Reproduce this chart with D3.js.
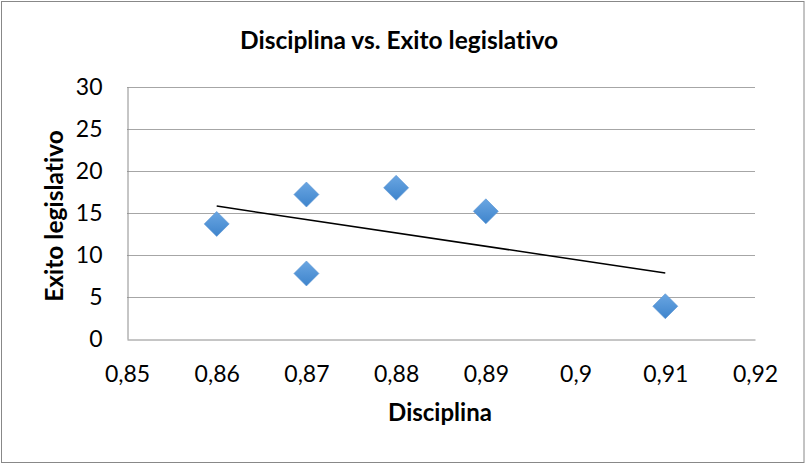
<!DOCTYPE html>
<html>
<head>
<meta charset="utf-8">
<script src="https://cdn.jsdelivr.net/npm/d3@7"></script>
<style>
  html, body { margin: 0; padding: 0; background: #fff; }
  svg { display: block; }
  text { font-family: Lato, "Open Sans", sans-serif; fill: #000; font-variant-ligatures: none; }
</style>
</head>
<body>
<svg id="chart" width="806" height="464"></svg>
<script>
// Disciplina (x) and Exito legislativo (y) per observation
const disciplina = [0.86, 0.87, 0.87, 0.88, 0.89, 0.91];
const exito      = [13.7, 17.2, 7.8, 18.0, 15.2, 3.9];

const xTicks = [0.85, 0.86, 0.87, 0.88, 0.89, 0.90, 0.91, 0.92];
const yTicks = [0, 5, 10, 15, 20, 25, 30];

const chartTitle = "Disciplina vs. Exito legislativo";
const xTitle = "Disciplina";
const yTitle = "Exito legislativo";

const W = 806, H = 464;
const plot = { left: 127, right: 755, top: 87, bottom: 339 };

const svg = d3.select("#chart");

// chart frame
svg.append("rect")
  .attr("x", 1.5).attr("y", 1.5)
  .attr("width", W - 3.5).attr("height", H - 3)
  .attr("fill", "#fff").attr("stroke", "#888").attr("stroke-width", 1);

const x = d3.scaleLinear().domain([0.85, 0.92]).range([plot.left, plot.right]);
const y = d3.scaleLinear().domain([0, 30]).range([plot.bottom, plot.top]);

const fmt = d => String(+d.toFixed(2)).replace(".", ",");

// horizontal gridlines
svg.append("g")
  .selectAll("line")
  .data(yTicks.filter(t => t > 0))
  .join("line")
  .attr("x1", plot.left).attr("x2", plot.right)
  .attr("y1", d => Math.round(y(d)) + 0.5).attr("y2", d => Math.round(y(d)) + 0.5)
  .attr("stroke", "#a6a6a6").attr("stroke-width", 1);

// y axis
const yAxis = svg.append("g")
  .attr("transform", `translate(${plot.left + 0.5},0)`)
  .call(d3.axisLeft(y).tickValues(yTicks).tickSize(0).tickPadding(25).tickFormat(d => d));
yAxis.select(".domain").attr("stroke", "#8c8c8c");
yAxis.selectAll("text")
  .style("font-family", "Lato, sans-serif").style("font-size", "23px").attr("fill", "#000");

// x axis
const xAxis = svg.append("g")
  .attr("transform", `translate(0,${plot.bottom + 0.5})`)
  .call(d3.axisBottom(x).tickValues(xTicks).tickSize(0).tickPadding(26).tickFormat(fmt));
xAxis.select(".domain").attr("stroke", "#8c8c8c");
xAxis.selectAll("text")
  .style("font-family", "Lato, sans-serif").style("font-size", "23px").attr("fill", "#000");

// linear trendline (least squares) over the data range
const n = disciplina.length;
const mx = d3.mean(disciplina), my = d3.mean(exito);
let sxy = 0, sxx = 0;
for (let i = 0; i < n; i++) {
  sxy += (disciplina[i] - mx) * (exito[i] - my);
  sxx += (disciplina[i] - mx) ** 2;
}
const slope = sxy / sxx, intercept = my - slope * mx;
const [x0, x1] = d3.extent(disciplina);
svg.append("line")
  .attr("x1", x(x0)).attr("y1", y(intercept + slope * x0))
  .attr("x2", x(x1)).attr("y2", y(intercept + slope * x1))
  .attr("stroke", "#000").attr("stroke-width", 1.5);

// diamond markers
const defs = svg.append("defs");
const grad = defs.append("linearGradient")
  .attr("id", "markerFill").attr("x1", 0).attr("y1", 0).attr("x2", 0).attr("y2", 1);
grad.append("stop").attr("offset", "0%").attr("stop-color", "#6aa6e2");
grad.append("stop").attr("offset", "100%").attr("stop-color", "#3e84cc");

const r = 12.5;
svg.append("g")
  .selectAll("path")
  .data(disciplina.map((d, i) => [d, exito[i]]))
  .join("path")
  .attr("transform", d => `translate(${x(d[0])},${y(d[1])})`)
  .attr("d", `M0,${-r}L${r},0L0,${r}L${-r},0Z`)
  .attr("fill", "url(#markerFill)")
  .attr("stroke", "#5b93d1").attr("stroke-width", 0.6);

// titles
svg.append("text")
  .attr("x", 399).attr("y", 49)
  .attr("text-anchor", "middle")
  .style("font-weight", "bold").style("font-size", "24.5px")
  .text(chartTitle);

svg.append("text")
  .attr("x", (plot.left + plot.right) / 2 - 1).attr("y", 421)
  .attr("text-anchor", "middle")
  .style("font-weight", "bold").style("font-size", "24px")
  .text(xTitle);

svg.append("text")
  .attr("transform", `translate(63,${(plot.top + plot.bottom) / 2 + 3}) rotate(-90)`)
  .attr("text-anchor", "middle")
  .style("font-weight", "bold").style("font-size", "24.5px")
  .text(yTitle);
</script>
</body>
</html>
